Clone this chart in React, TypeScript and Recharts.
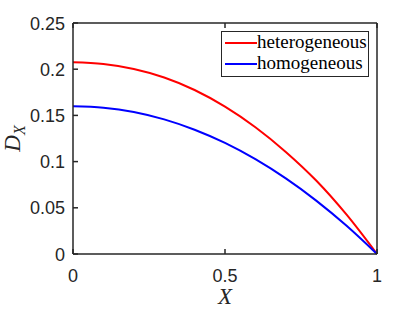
import React from 'react';
import { LineChart, Line, XAxis, YAxis } from 'recharts';

const X_VALUES = [0, 0.1, 0.2, 0.3, 0.4, 0.5, 0.6, 0.7, 0.8, 0.9, 1];
const HETERO = [0.2074, 0.2056, 0.2002, 0.191, 0.1775, 0.1595, 0.1372, 0.1105, 0.0795, 0.0425, 0];
const HOMO = [0.16, 0.1584, 0.1537, 0.1457, 0.1345, 0.1202, 0.1026, 0.0818, 0.0578, 0.0305, 0];
const SERIES_NAMES = ['heterogeneous', 'homogeneous'];
const SERIES_COLORS = ['#ff0000', '#0000ff'];
const X_TICKS = [0, 0.5, 1];
const X_TICK_LABELS = ['0', '0.5', '1'];
const Y_TICKS = [0, 0.05, 0.1, 0.15, 0.2, 0.25];
const Y_TICK_LABELS = ['0', '0.05', '0.1', '0.15', '0.2', '0.25'];

const data = X_VALUES.map((x, i) => ({ x, hetero: HETERO[i], homo: HOMO[i] }));

const AXIS_COLOR = '#262626';
const TICK_FONT = '"Liberation Sans", Arial, sans-serif';
const SERIF = '"Liberation Serif", "Times New Roman", serif';

const fmtX = (v: number) => X_TICK_LABELS[X_TICKS.indexOf(v)] ?? String(v);
const fmtY = (v: number) => {
  const i = Y_TICKS.findIndex((t) => Math.abs(t - v) < 1e-9);
  return i >= 0 ? Y_TICK_LABELS[i] : String(v);
};

const BottomTick = (p: any) => (
  <g>
    <line x1={p.x} x2={p.x} y1={p.y} y2={p.y - 5} stroke={AXIS_COLOR} strokeWidth={1.5} />
    <text x={p.x} y={p.y + 28} textAnchor="middle" fontFamily={TICK_FONT} fontSize={18} fill={AXIS_COLOR}>
      {fmtX(p.payload.value)}
    </text>
  </g>
);
const TopTick = (p: any) => (
  <line x1={p.x} x2={p.x} y1={p.y} y2={p.y + 5} stroke={AXIS_COLOR} strokeWidth={1.5} />
);
const LeftTick = (p: any) => (
  <g>
    <line x1={p.x} x2={p.x + 5} y1={p.y} y2={p.y} stroke={AXIS_COLOR} strokeWidth={1.5} />
    <text x={p.x - 8} y={p.y + 6.5} textAnchor="end" fontFamily={TICK_FONT} fontSize={18} fill={AXIS_COLOR}>
      {fmtY(p.payload.value)}
    </text>
  </g>
);
const RightTick = (p: any) => (
  <line x1={p.x} x2={p.x - 5} y1={p.y} y2={p.y} stroke={AXIS_COLOR} strokeWidth={1.5} />
);

const XLabel = (p: any) => {
  const vb = p.viewBox;
  return (
    <text x={vb.x + vb.width / 2} y={vb.y + 50} textAnchor="middle" fontFamily={SERIF} fontStyle="italic" fontSize={23} fill={AXIS_COLOR}>
      X
    </text>
  );
};

const YLabel = (p: any) => {
  const vb = p.viewBox;
  const cx = 20;
  const cy = vb.y + vb.height / 2;
  return (
    <text transform={`rotate(-90, ${cx}, ${cy})`} x={cx} y={cy} textAnchor="middle" fontFamily={SERIF} fontStyle="italic" fontSize={23} fill={AXIS_COLOR}>
      D<tspan fontSize={16} dy={5}>X</tspan>
    </text>
  );
};

const LegendBox = () => (
  <div
    style={{
      boxSizing: 'border-box',
      position: 'absolute',
      left: 221,
      top: 31,
      width: 148,
      height: 46,
      border: `1.5px solid ${AXIS_COLOR}`,
      background: '#fff',
    }}
  >
    {SERIES_NAMES.map((name, i) => (
      <div key={i} style={{ position: 'absolute', left: 0, top: 1 + i * 20.5, height: 20, width: 146 }}>
        <svg width={34} height={20} style={{ position: 'absolute', left: 2, top: 0 }}>
          <line x1={1} x2={33} y1={10} y2={10} stroke={SERIES_COLORS[i]} strokeWidth={2} />
        </svg>
        <span
          style={{
            position: 'absolute',
            left: 35,
            top: -2,
            fontFamily: SERIF,
            fontSize: 19,
            lineHeight: '22px',
            color: '#000',
            whiteSpace: 'nowrap',
          }}
        >
          {name}
        </span>
      </div>
    ))}
  </div>
);

export default function App() {
  return (
    <div style={{ position: 'absolute', left: 0, top: 0, width: 416, height: 313, background: '#fff' }}>
      <LineChart width={416} height={313} data={data} margin={{ top: 22, right: 38, bottom: 0, left: 0 }}>
        <XAxis
          xAxisId="b"
          dataKey="x"
          type="number"
          domain={[0, 1]}
          ticks={X_TICKS}
          interval={0}
          height={59}
          tickSize={0}
          tickMargin={0}
          tickLine={false}
          axisLine={{ stroke: AXIS_COLOR, strokeWidth: 1.5 }}
          tick={<BottomTick />}
          label={<XLabel />}
        />
        <XAxis
          xAxisId="t"
          orientation="top"
          dataKey="x"
          type="number"
          domain={[0, 1]}
          ticks={X_TICKS}
          interval={0}
          height={1}
          tickSize={0}
          tickMargin={0}
          tickLine={false}
          axisLine={{ stroke: AXIS_COLOR, strokeWidth: 1.5 }}
          tick={<TopTick />}
        />
        <YAxis
          yAxisId="l"
          type="number"
          domain={[0, 0.25]}
          ticks={Y_TICKS}
          interval={0}
          width={73}
          tickSize={0}
          tickMargin={0}
          tickLine={false}
          axisLine={{ stroke: AXIS_COLOR, strokeWidth: 1.5 }}
          tick={<LeftTick />}
          label={<YLabel />}
        />
        <YAxis
          yAxisId="r"
          orientation="right"
          type="number"
          domain={[0, 0.25]}
          ticks={Y_TICKS}
          interval={0}
          width={1}
          tickSize={0}
          tickMargin={0}
          tickLine={false}
          axisLine={{ stroke: AXIS_COLOR, strokeWidth: 1.5 }}
          tick={<RightTick />}
        />
        <Line
          xAxisId="b"
          yAxisId="l"
          type="monotone"
          dataKey="hetero"
          name={SERIES_NAMES[0]}
          stroke={SERIES_COLORS[0]}
          strokeWidth={2}
          dot={false}
          isAnimationActive={false}
        />
        <Line
          xAxisId="b"
          yAxisId="l"
          type="monotone"
          dataKey="homo"
          name={SERIES_NAMES[1]}
          stroke={SERIES_COLORS[1]}
          strokeWidth={2}
          dot={false}
          isAnimationActive={false}
        />
      </LineChart>
      <LegendBox />
    </div>
  );
}
